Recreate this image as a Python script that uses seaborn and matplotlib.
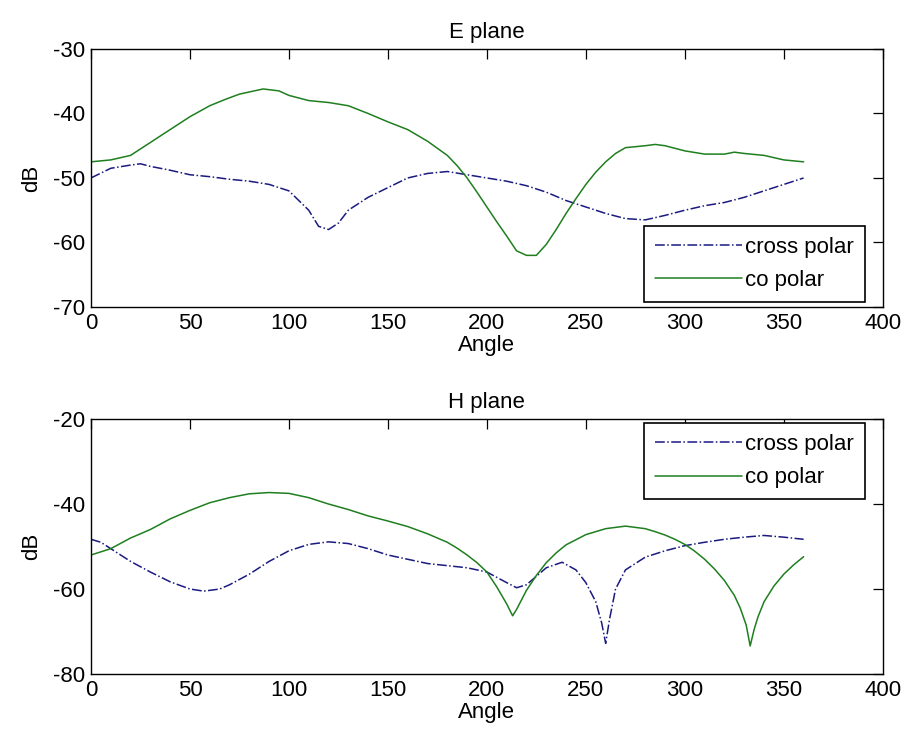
import matplotlib
matplotlib.use("Agg")
import matplotlib.pyplot as plt
import seaborn as sns

# E plane
e_cross_angle = [0, 10, 20, 25, 30, 40, 50, 60, 70, 80, 90, 100, 110, 115, 120, 125, 130, 140,
                 150, 160, 170, 180, 190, 200, 210, 220, 230, 240, 250, 260, 270, 280, 290,
                 300, 310, 320, 330, 340, 350, 360]
e_cross_db = [-50, -48.5, -48, -47.8, -48.2, -48.8, -49.5, -49.8, -50.2, -50.5, -51, -52, -55,
              -57.5, -58, -57, -55, -53, -51.5, -50, -49.3, -49, -49.5, -50, -50.5, -51.2,
              -52.2, -53.5, -54.5, -55.5, -56.3, -56.5, -55.8, -55, -54.3, -53.8, -53, -52,
              -51, -50]
e_co_angle = [0, 10, 20, 30, 40, 50, 60, 68, 75, 87, 95, 100, 110, 120, 130, 140, 150, 160,
              170, 180, 185, 190, 195, 200, 205, 210, 215, 220, 225, 230, 235, 240, 245, 250,
              255, 260, 265, 270, 280, 285, 290, 300, 310, 320, 325, 330, 340, 350, 360]
e_co_db = [-47.5, -47.2, -46.5, -44.5, -42.5, -40.5, -38.8, -37.8, -37, -36.2, -36.5, -37.2,
           -38, -38.3, -38.8, -40, -41.3, -42.5, -44.3, -46.5, -48.1, -50, -52.2, -54.5, -56.8,
           -59, -61.3, -62, -62, -60.3, -58, -55.5, -53.2, -51, -49.1, -47.5, -46.2, -45.3, -45,
           -44.8, -45, -45.8, -46.3, -46.3, -46, -46.2, -46.5, -47.2, -47.5]

# H plane
h_cross_angle = [0, 5, 10, 20, 30, 40, 50, 57, 65, 70, 80, 90, 100, 110, 120, 130, 140, 150,
                 160, 170, 180, 190, 200, 210, 215, 220, 225, 230, 238, 245, 250, 255, 258,
                 260, 262, 265, 270, 280, 290, 300, 310, 320, 330, 340, 350, 360]
h_cross_db = [-48.3, -49, -50.5, -53.5, -56, -58.3, -60, -60.5, -60, -59, -56.5, -53.5, -51,
              -49.5, -48.9, -49.3, -50.5, -52, -53, -54, -54.5, -55, -56, -58.5, -59.7, -59, -57,
              -55, -53.7, -55.5, -58.5, -63, -68, -72.8, -67, -60, -55.5, -52.5, -51, -49.8, -49,
              -48.3, -47.8, -47.4, -47.8, -48.3]
h_co_angle = [0, 10, 20, 30, 40, 50, 60, 70, 80, 90, 100, 110, 120, 130, 140, 150, 160, 170,
              180, 185, 190, 195, 200, 205, 210, 213, 215, 220, 225, 230, 235, 240, 250, 260,
              270, 280, 285, 290, 295, 300, 305, 310, 315, 320, 325, 328, 331, 333, 335, 337,
              340, 345, 350, 355, 360]
h_co_db = [-52, -50.5, -48, -46, -43.5, -41.5, -39.7, -38.5, -37.6, -37.3, -37.5, -38.5, -40,
           -41.3, -42.8, -44, -45.3, -47, -49, -50.4, -52, -53.8, -56, -59.5, -63.5, -66.3,
           -64.8, -60.3, -56.8, -53.8, -51.5, -49.6, -47.2, -45.8, -45.2, -45.8, -46.5, -47.3,
           -48.3, -49.5, -51.1, -53, -55.3, -58, -61.5, -64.5, -68.5, -73.4, -69.5, -66.5,
           -63, -59.3, -56.5, -54.3, -52.4]

sns.set_style("white")
plt.rcParams["font.family"] = ["Liberation Sans", "DejaVu Sans"]
plt.rcParams["font.size"] = 16
plt.rcParams["axes.unicode_minus"] = False
plt.rcParams["text.color"] = "black"
plt.rcParams["axes.labelcolor"] = "black"

cross_color = "#1a1a80"
co_color = "#1f7f1f"

fig = plt.figure(figsize=(9.06, 7.42), dpi=100)
ax1 = fig.add_axes([0.1004, 0.5863, 0.874, 0.3477])
ax2 = fig.add_axes([0.1004, 0.0916, 0.874, 0.3437])


def draw(ax, ca, cd, pa, pd_, title, ylim, yticks, loc, anchor):
    sns.lineplot(x=ca, y=cd, ax=ax, color=cross_color, linestyle="-.", linewidth=1.1,
                 label="cross polar")
    sns.lineplot(x=pa, y=pd_, ax=ax, color=co_color, linestyle="-", linewidth=1.1,
                 label="co polar")
    ax.set_xlim(0, 400)
    ax.set_ylim(*ylim)
    ax.set_xticks(range(0, 401, 50))
    ax.set_yticks(yticks)
    ax.set_xlabel("Angle", labelpad=1)
    ax.set_ylabel("dB", labelpad=8)
    ax.set_title(title, fontsize=16, pad=8, color="black")
    ax.tick_params(direction="in", top=True, right=True, length=7, width=0.9,
                   labelsize=16, colors="black", pad=4)
    for s in ax.spines.values():
        s.set_color("black")
        s.set_linewidth(1.0)
    leg = ax.legend(loc=loc, bbox_to_anchor=anchor, bbox_transform=fig.transFigure,
                    fancybox=False, framealpha=1, edgecolor="black",
                    fontsize=16, handlelength=3.9, handletextpad=0.15, borderpad=0.5,
                    labelspacing=0.55, borderaxespad=0)
    leg.get_frame().set_linewidth(1.2)


draw(ax1, e_cross_angle, e_cross_db, e_co_angle, e_co_db, "E plane", (-70, -30),
     range(-70, -29, 10), "lower right", (865 / 906, 1 - 302 / 742))
draw(ax2, h_cross_angle, h_cross_db, h_co_angle, h_co_db, "H plane", (-80, -20),
     range(-80, -19, 20), "upper right", (865 / 906, 1 - 423 / 742))

fig.savefig("out.png", dpi=100)
